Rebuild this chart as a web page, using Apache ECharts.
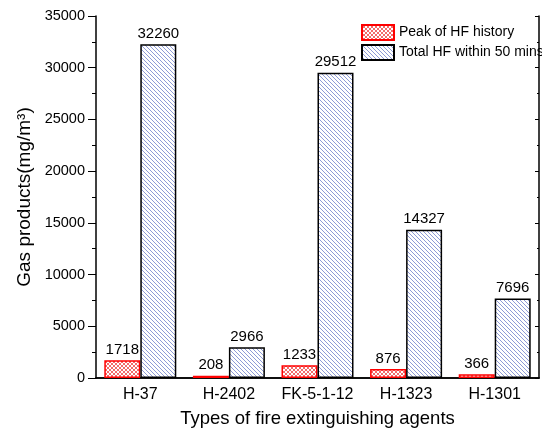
<!DOCTYPE html>
<html>
<head>
<meta charset="utf-8">
<script src="https://cdn.jsdelivr.net/npm/echarts@6/dist/echarts.min.js"></script>
<style>
html,body{margin:0;padding:0;background:#fff;}
#chart{width:542px;height:434px;}
</style>
</head>
<body>
<div id="chart"></div>
<script>
var categories = ['H-37', 'H-2402', 'FK-5-1-12', 'H-1323', 'H-1301'];
var peakHF = [1718, 208, 1233, 876, 366];
var totalHF = [32260, 2966, 29512, 14327, 7696];
var seriesNames = ['Peak of HF history', 'Total HF within 50 mins'];

function makeTile(draw) {
  var c = document.createElement('canvas');
  c.width = 4; c.height = 4;
  var ctx = c.getContext('2d');
  ctx.fillStyle = '#ffffff';
  ctx.fillRect(0, 0, 4, 4);
  draw(ctx);
  return c;
}
var redTile = makeTile(function (ctx) {
  ctx.fillStyle = '#f26b6b';
  for (var i = 0; i < 4; i++) {
    ctx.fillRect(i, i, 1, 1);
    ctx.fillRect(3 - i, i, 1, 1);
  }
});
var blueTile = makeTile(function (ctx) {
  ctx.fillStyle = '#8e9bd6';
  for (var i = 0; i < 4; i++) {
    ctx.fillRect(i, i, 1, 1);
  }
});

var font = 'Liberation Sans, Arial, sans-serif';
var chart = echarts.init(document.getElementById('chart'), null, {renderer: 'canvas'});
chart.setOption({
  animation: false,
  backgroundColor: '#fff',
  textStyle: {fontFamily: font},
  grid: {left: 96, right: 3, top: 16, bottom: 56},
  legend: {
    left: 356, top: 19, orient: 'vertical',
    itemWidth: 32, itemHeight: 15, itemGap: 3,
    icon: 'rect',
    textStyle: {fontSize: 14, color: '#000', fontFamily: font},
    data: seriesNames
  },
  xAxis: [{
    type: 'category', data: categories, position: 'bottom',
    axisLine: {lineStyle: {color: '#000', width: 1.5}},
    axisTick: {show: false},
    axisLabel: {fontSize: 16, color: '#000', margin: 9, fontFamily: font, interval: 0},
    name: 'Types of fire extinguishing agents', nameLocation: 'middle', nameGap: 31,
    nameTextStyle: {fontSize: 18.5, color: '#000', fontFamily: font}
  }, {
    type: 'category', data: categories, position: 'top',
    axisLine: {lineStyle: {color: '#000', width: 1.5}},
    axisTick: {show: false}, axisLabel: {show: false}
  }],
  yAxis: [{
    type: 'value', min: 0, max: 35000, interval: 5000, position: 'left',
    axisLine: {show: true, lineStyle: {color: '#000', width: 1.5}},
    axisTick: {show: true, length: 8, lineStyle: {color: '#000', width: 1}},
    minorTick: {show: true, splitNumber: 2, length: 4, lineStyle: {color: '#000', width: 1}},
    splitLine: {show: false},
    axisLabel: {fontSize: 14.5, color: '#000', margin: 11, fontFamily: font,
      formatter: function (v) { return String(v); }},
    name: 'Gas products(mg/m\u00b3)', nameLocation: 'middle', nameGap: 59,
    nameTextStyle: {fontSize: 19, color: '#000', fontFamily: font}
  }, {
    type: 'value', min: 0, max: 35000, interval: 5000, position: 'right',
    axisLine: {show: true, lineStyle: {color: '#000', width: 1.5}},
    axisTick: {show: true, inside: true, length: 4, lineStyle: {color: '#000', width: 1}},
    minorTick: {show: true, splitNumber: 2, length: 2, lineStyle: {color: '#000', width: 1}},
    splitLine: {show: false},
    axisLabel: {show: false}
  }],
  series: [{
    name: seriesNames[0], type: 'bar', data: peakHF,
    barWidth: 36, barGap: '0%',
    itemStyle: {color: {image: redTile, repeat: 'repeat'}, borderColor: '#ff0000', borderWidth: 1.5},
    label: {show: true, position: 'top', fontSize: 15, color: '#000', distance: 3, fontFamily: font}
  }, {
    name: seriesNames[1], type: 'bar', data: totalHF,
    barWidth: 36, barGap: '0%',
    itemStyle: {color: {image: blueTile, repeat: 'repeat'}, borderColor: '#000', borderWidth: 1.5},
    label: {show: true, position: 'top', fontSize: 15, color: '#000', distance: 3, fontFamily: font}
  }]
});
</script>
</body>
</html>
